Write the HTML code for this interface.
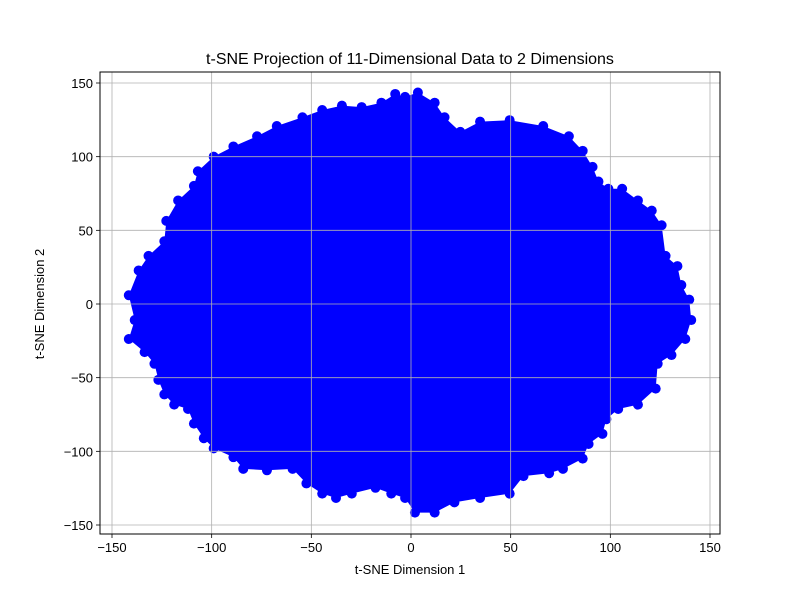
<!DOCTYPE html>
<html><head><meta charset="utf-8"><style>
html,body{margin:0;padding:0;background:#fff;}
svg{display:block;font-family:"Liberation Sans","DejaVu Sans",sans-serif;}
</style></head><body>
<svg id="chart" width="800" height="600">
<rect width="800" height="600" fill="#fff"/>
<g id="marks"></g>
<g id="grid"></g>
<g id="axes"></g>
<text x="410" y="64" text-anchor="middle" font-size="16">t-SNE Projection of 11-Dimensional Data to 2 Dimensions</text>
<text x="410" y="574" text-anchor="middle" font-size="13">t-SNE Dimension 1</text>
<text x="44" y="304" text-anchor="middle" font-size="13" transform="rotate(-90 44 304)">t-SNE Dimension 2</text>
</svg>
<script>
const xTicks=[-150,-100,-50,0,50,100,150];
const yTicks=[-150,-100,-50,0,50,100,150];
const boundaryX=[-3,3.5,12,17,25,35,50,67,80,87,92,95,100,107,115,122,127,129,135,137,141,142,139,132,125,124,115,105,99,97,90,87,77,70,57,50,35,22,12,2,-3,-10,-18,-30,-38,-45,-53,-60,-73,-85,-90,-100,-105,-110,-113,-120,-125,-128,-130,-135,-143,-140,-143,-138,-133,-125,-124,-118,-110,-108,-100,-90,-78,-68,-55,-45,-35,-25,-15,-8];
const boundaryY=[142,145,138,128,118,125,126,122,115,105,94,84,79,79,71,64,54,33,26,13,3,-11,-24,-35,-41,-58,-69,-72,-79,-89,-96,-106,-113,-116,-118,-130,-133,-136,-143,-143,-133,-130,-126,-130,-133,-130,-123,-113,-114,-113,-105,-99,-92,-82,-72,-69,-62,-52,-41,-33,-24,-11,6,23,33,43,57,71,81,91,101,108,115,122,128,133,136,135,138,144];
const L=100,R=720,T=72,B=534;
const sx=v=>411+v*(598/300);
const sy=v=>304-v*(442/300);
const shrink=0.99;
const NS="http://www.w3.org/2000/svg";
const marks=document.getElementById('marks');
let pts=boundaryX.map((x,i)=>sx(x*shrink)+','+sy(boundaryY[i]*shrink)).join(' ');
const poly=document.createElementNS(NS,'polygon');
poly.setAttribute('points',pts);poly.setAttribute('fill','#0000ff');


marks.appendChild(poly);
boundaryX.forEach((x,i)=>{
 const c=document.createElementNS(NS,'circle');
 c.setAttribute('cx',sx(x*shrink));c.setAttribute('cy',sy(boundaryY[i]*shrink));c.setAttribute('r',5);c.setAttribute('fill','#0000ff');
 
 
 marks.appendChild(c);
});
const grid=document.getElementById('grid'),axes=document.getElementById('axes');
function add(p,tag,attrs,txt){const e=document.createElementNS(NS,tag);for(const k in attrs)e.setAttribute(k,attrs[k]);if(txt!==undefined)e.textContent=txt;p.appendChild(e);return e;}
xTicks.forEach(t=>{
 const x=sx(t);
 const g=add(grid,'line',{x1:x,x2:x,y1:T,y2:B,stroke:'#b0b0b0','stroke-width':0.8});
 
 
 add(axes,'line',{x1:x,x2:x,y1:B,y2:B+4,stroke:'#000','stroke-width':0.8});
 const lb=add(axes,'text',{x:x,y:B+18,'text-anchor':'middle','font-size':13},t<0?'\u2212'+(-t):String(t));
 
 
});
yTicks.forEach(t=>{
 const y=sy(t);
 const g=add(grid,'line',{x1:L,x2:R,y1:y,y2:y,stroke:'#b0b0b0','stroke-width':0.8});
 
 
 add(axes,'line',{x1:L-4,x2:L,y1:y,y2:y,stroke:'#000','stroke-width':0.8});
 const lb=add(axes,'text',{x:L-7,y:y+5,'text-anchor':'end','font-size':13},t<0?'\u2212'+(-t):String(t));
 
 
});
const fr=add(axes,'rect',{x:L,y:T,width:R-L,height:B-T,fill:'none',stroke:'#000','stroke-width':1});


</script>
</body></html>
